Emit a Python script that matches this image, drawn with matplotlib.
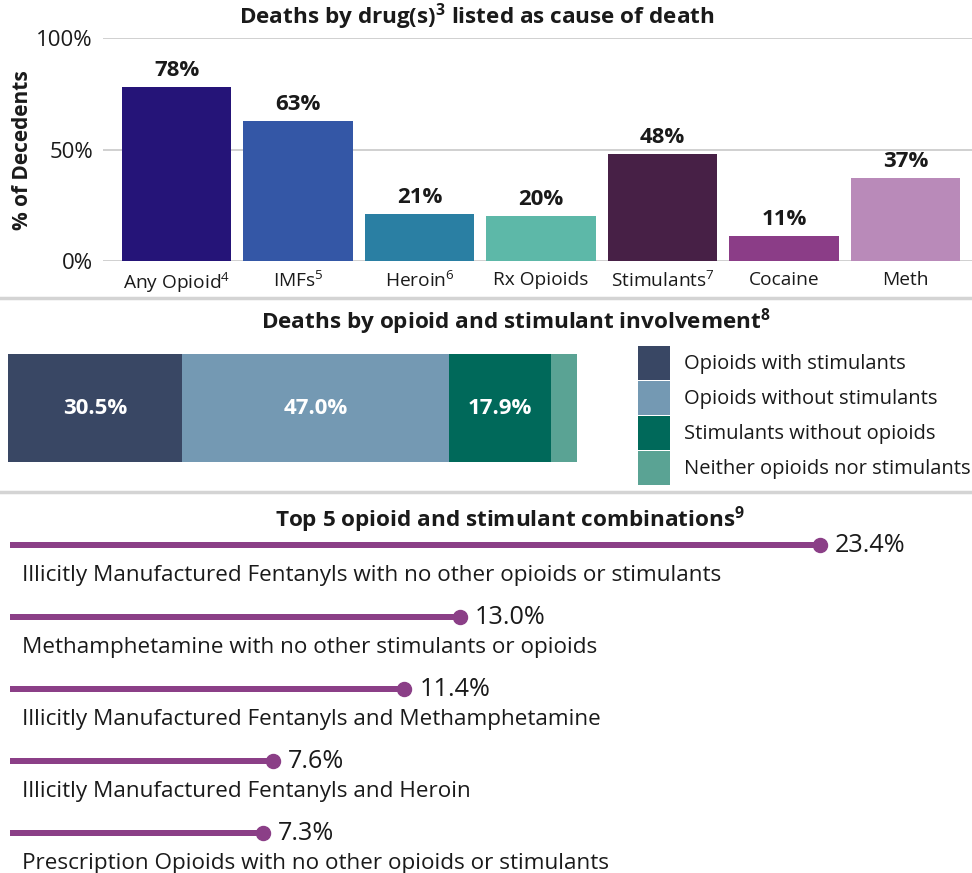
import matplotlib
matplotlib.use('Agg')
import matplotlib.pyplot as plt
from matplotlib.lines import Line2D
from matplotlib.patches import Patch
import numpy as np

W, H = 972, 873
FONT = 'Open Sans'

plt.rcParams['font.family'] = [FONT, 'DejaVu Sans']
plt.rcParams['mathtext.fontset'] = 'custom'
plt.rcParams['mathtext.rm'] = FONT
plt.rcParams['mathtext.bf'] = FONT + ':bold'
plt.rcParams['mathtext.it'] = FONT + ':italic'

# Data
drug_labels = ['Any Opioid$^{4}$', 'IMFs$^{5}$', 'Heroin$^{6}$', 'Rx Opioids',
               'Stimulants$^{7}$', 'Cocaine', 'Meth']
drug_values = [78, 63, 21, 20, 48, 11, 37]
drug_colors = ['#251478', '#3457a6', '#2a7fa3', '#5db8a8', '#472046', '#8b3d87', '#b98ab9']

inv_labels = ['Opioids with stimulants', 'Opioids without stimulants',
              'Stimulants without opioids', 'Neither opioids nor stimulants']
inv_values = [30.5, 47.0, 17.9, 4.6]
inv_colors = ['#394764', '#7499b3', '#00695a', '#5aa394']

combo_labels = ['Illicitly Manufactured Fentanyls with no other opioids or stimulants',
                'Methamphetamine with no other stimulants or opioids',
                'Illicitly Manufactured Fentanyls and Methamphetamine',
                'Illicitly Manufactured Fentanyls and Heroin',
                'Prescription Opioids with no other opioids or stimulants']
combo_values = [23.4, 13.0, 11.4, 7.6, 7.3]
combo_color = '#8b3f87'

TEXT = '#1a1a1a'
FS = 14.5      # legend text
FS_X = 13.8    # category tick labels
FS_Y = 16      # percent tick labels
FS_B = 16      # bold value labels
FS_T = 16.2    # titles
FS_L = 16.2    # lollipop labels
FS_V = 18.2    # lollipop values


def px_axes(fig, x0, y0, x1, y1):
    return fig.add_axes([x0 / W, 1 - y1 / H, (x1 - x0) / W, (y1 - y0) / H])


def px(p):
    # pixels -> points
    return p * 72 / 100


fig = plt.figure(figsize=(W / 100, H / 100), dpi=100)

# ---- top: bar chart
ax1 = px_axes(fig, 103, 38, 972, 261)
x = np.arange(len(drug_values))
bars = ax1.bar(x, drug_values, width=0.9, color=drug_colors, zorder=3)
ax1.set_xlim(-0.605, 6.547)
ax1.set_ylim(0, 100)
ax1.set_yticks([0, 50, 100])
ax1.set_yticklabels(['0%', '50%', '100%'])
ax1.set_xticks(x)
ax1.set_xticklabels(drug_labels)
ax1.tick_params(length=0, colors=TEXT)
ax1.tick_params(axis='x', labelsize=FS_X, pad=px(10))
ax1.tick_params(axis='y', labelsize=FS_Y, pad=px(10))
ax1.grid(axis='y', color='#c8c8c8', lw=1.2, zorder=0)
for s in ax1.spines.values():
    s.set_visible(False)
for b, v in zip(bars, drug_values):
    ax1.annotate(f'{v}%', (b.get_x() + b.get_width() / 2, v), xytext=(0, px(6)),
                 textcoords='offset points', ha='center', va='bottom',
                 fontsize=FS_B, fontweight='bold', color=TEXT)
fig.text(22 / W, 1 - 150 / H, '% of Decedents', rotation=90, ha='center', va='center',
         fontsize=15, fontweight='bold', color=TEXT)
fig.text(477 / W, 1 - 17 / H, r'Deaths by drug(s)$^{\mathbf{3}}$ listed as cause of death',
         ha='center', va='center', fontsize=FS_T, fontweight='bold', color=TEXT)

# separators
for yy in (298, 492):
    fig.add_artist(Line2D([0, 1], [1 - yy / H] * 2, color='#d4d4d4', lw=2.5))

# ---- middle: stacked bar
ax2 = px_axes(fig, 8, 354, 577, 462)
left = 0
for v, c in zip(inv_values, inv_colors):
    ax2.barh(0, v, left=left, height=1, color=c)
    if v > 10:
        ax2.text(left + v / 2, 0, f'{v:.1f}%', ha='center', va='center',
                 fontsize=FS_B, fontweight='bold', color='white')
    left += v
ax2.set_xlim(0, sum(inv_values))
ax2.set_ylim(-0.5, 0.5)
ax2.axis('off')
fig.text(516 / W, 1 - 322 / H, r'Deaths by opioid and stimulant involvement$^{\mathbf{8}}$',
         ha='center', va='center', fontsize=FS_T, fontweight='bold', color=TEXT)
handles = [Patch(facecolor=c) for c in inv_colors]
fig.legend(handles, inv_labels, loc='upper left', bbox_to_anchor=(638 / W, 1 - 346 / H),
           frameon=False, fontsize=FS, handlelength=1.6, handleheight=2.2,
           labelspacing=0.06, handletextpad=0.7, borderpad=0, borderaxespad=0,
           labelcolor=TEXT)

# ---- bottom: lollipops
ax3 = px_axes(fig, 10, 509, 962, 869)
y = np.arange(len(combo_values))
ax3.hlines(y, 0, combo_values, color=combo_color, lw=px(6), capstyle='butt')
ax3.plot(combo_values, y, 'o', color=combo_color, ms=px(14))
for yi, v, lab in zip(y, combo_values, combo_labels):
    ax3.annotate(f'{v:.1f}%', (v, yi), xytext=(px(15), 0), textcoords='offset points',
                 ha='left', va='center', fontsize=FS_V, color=TEXT)
    ax3.annotate(lab, (0, yi), xytext=(px(12), px(-30)), textcoords='offset points',
                 ha='left', va='center', fontsize=FS_L, color=TEXT)
ax3.set_xlim(0, 952 / 34.6)
ax3.set_ylim(4.5, -0.5)
ax3.axis('off')
fig.text(510 / W, 1 - 520 / H, r'Top 5 opioid and stimulant combinations$^{\mathbf{9}}$',
         ha='center', va='center', fontsize=FS_T, fontweight='bold', color=TEXT)

fig.savefig('out.png', dpi=100)
